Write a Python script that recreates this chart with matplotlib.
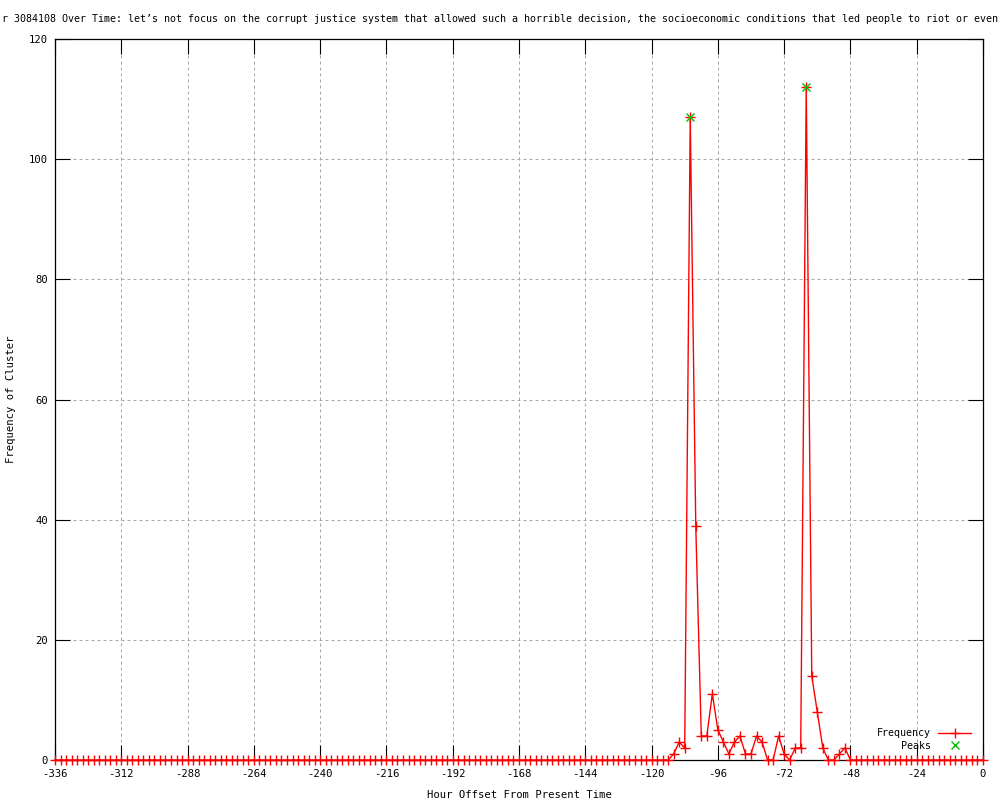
import matplotlib
matplotlib.use("Agg")
import matplotlib.pyplot as plt
import numpy as np

title_text = ("r 3084108 Over Time: let\u2019s not focus on the corrupt justice system that allowed "
              "such a horrible decision, the socioeconomic conditions that led people to riot or even")
x_label = "Hour Offset From Present Time"
y_label = "Frequency of Cluster"

hours = list(range(-336, 1, 2))
frequency = [
    0, 0, 0, 0, 0, 0, 0, 0, 0, 0, 0, 0, 0, 0, 0, 0,
    0, 0, 0, 0, 0, 0, 0, 0, 0, 0, 0, 0, 0, 0, 0, 0,
    0, 0, 0, 0, 0, 0, 0, 0, 0, 0, 0, 0, 0, 0, 0, 0,
    0, 0, 0, 0, 0, 0, 0, 0, 0, 0, 0, 0, 0, 0, 0, 0,
    0, 0, 0, 0, 0, 0, 0, 0, 0, 0, 0, 0, 0, 0, 0, 0,
    0, 0, 0, 0, 0, 0, 0, 0, 0, 0, 0, 0, 0, 0, 0, 0,
    0, 0, 0, 0, 0, 0, 0, 0, 0, 0, 0, 0, 0, 0, 0, 0,
    # -112 .. -48
    1, 3, 2, 107, 39, 4, 4, 11, 5, 3, 1, 3, 4, 1, 1, 4,
    3, 0, 0, 4, 1, 0, 2, 2, 112, 14, 8, 2, 0, 0, 1, 2,
    0,
    # -46 .. 0
    0, 0, 0, 0, 0, 0, 0, 0, 0, 0, 0, 0, 0, 0, 0, 0,
    0, 0, 0, 0, 0, 0, 0, 0,
]
peak_hours = [-106, -64]
peak_values = [107, 112]

x_ticks = list(range(-336, 1, 24))
y_ticks = list(range(0, 121, 20))

plt.rcParams['font.family'] = ['DejaVu Sans Mono']
plt.rcParams['axes.unicode_minus'] = False
fs = 7.2
tfs = 7.6

fig = plt.figure(figsize=(10, 8), dpi=100)
ax = fig.add_axes([0.055, 0.05, 0.928, 0.90125])

ax.plot(hours, frequency, color='#ff0000', linewidth=1.0, marker='+',
        markersize=6.5, markeredgewidth=1.0, clip_on=False, label='Frequency', zorder=3)
ax.plot(peak_hours, peak_values, linestyle='none', color='#00c000', marker='x',
        markersize=6, markeredgewidth=1.0, clip_on=False, label='Peaks', zorder=4)

ax.set_xlim(-336, 0)
ax.set_ylim(0, 120)
ax.set_xticks(x_ticks)
ax.set_yticks(y_ticks)
ax.tick_params(axis='both', which='major', direction='in', length=11, width=0.8,
               top=True, right=True, labelsize=tfs, color='black')
ax.tick_params(axis='x', pad=6.5)
ax.tick_params(axis='y', pad=5)
ax.grid(True, color='#a8a8a8', linestyle=(0, (3, 3)), linewidth=0.72)
for s in ax.spines.values():
    s.set_linewidth(0.9)
    s.set_color('black')

ax.set_xlabel(x_label, fontsize=tfs, labelpad=8)
ax.set_ylabel(y_label, fontsize=tfs, labelpad=9)

fig.text(0.5, 0.976, title_text, ha='center', va='center', fontsize=fs)

leg = ax.legend(loc='lower right', bbox_to_anchor=(0.995, 0.003), frameon=False,
                markerfirst=False, fontsize=fs, handlelength=3.3, handletextpad=0.7,
                labelspacing=0.25, borderaxespad=0.3)
for t in leg.get_texts():
    t.set_ha('right')

fig.savefig('out.png', dpi=100)
